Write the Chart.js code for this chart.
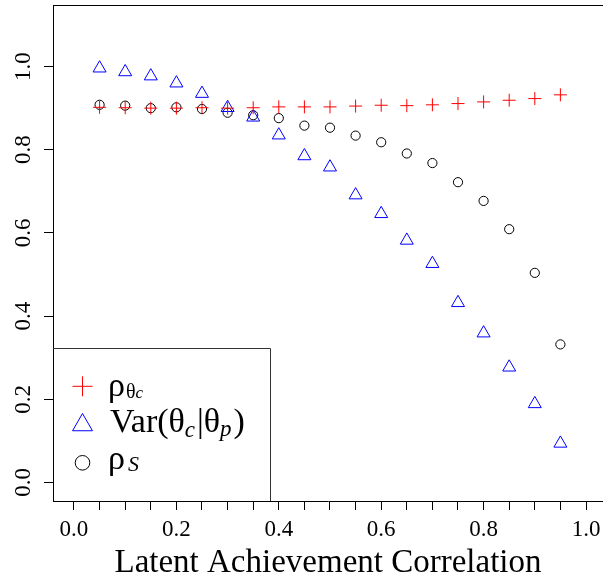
<!DOCTYPE html>
<html><head><meta charset="utf-8">
<script src="https://cdn.jsdelivr.net/npm/chart.js@4/dist/chart.umd.min.js"></script>
<style>html,body{margin:0;padding:0;background:#fff}canvas{display:block}</style>
</head><body>
<canvas id="c" width="603" height="583"></canvas>
<script>
// ---- data ----
const correlation = [0.05,0.10,0.15,0.20,0.25,0.30,0.35,0.40,0.45,0.50,0.55,0.60,0.65,0.70,0.75,0.80,0.85,0.90,0.95];
const rhoThetaC  = [0.902,0.901,0.900,0.900,0.901,0.900,0.901,0.903,0.903,0.903,0.905,0.907,0.906,0.908,0.911,0.915,0.919,0.923,0.932];
const varThetaC  = [0.996,0.987,0.977,0.960,0.935,0.901,0.878,0.835,0.785,0.758,0.691,0.646,0.582,0.526,0.432,0.359,0.277,0.189,0.094];
const rhoS       = [0.908,0.906,0.900,0.902,0.898,0.889,0.883,0.876,0.858,0.853,0.834,0.818,0.791,0.768,0.722,0.677,0.609,0.504,0.332];
const xTickLabels = ['0.0','0.2','0.4','0.6','0.8','1.0'];
const yTickLabels = ['0.0','0.2','0.4','0.6','0.8','1.0'];
const xTitle = 'Latent Achievement Correlation';

const FONT = "'Liberation Serif', 'DejaVu Serif', serif";
Chart.defaults.font.family = FONT;
Chart.defaults.color = '#000';

const pts = arr => correlation.map((x, i) => ({x, y: arr[i]}));

const frame = {
  id: 'frame',
  afterDraw(chart) {
    const ctx = chart.ctx, a = chart.chartArea;
    ctx.save();
    ctx.strokeStyle = '#000'; ctx.lineWidth = 1;
    ctx.beginPath(); ctx.moveTo(a.left, a.top + 0.5); ctx.lineTo(a.right, a.top + 0.5); ctx.stroke();
    ctx.restore();
  }
};

function richText(ctx, x, base, parts) {
  for (const p of parts) {
    ctx.font = (p.italic ? 'italic ' : '') + p.size + 'px ' + FONT;
    ctx.fillText(p.t, x, base + (p.dy || 0));
    x += ctx.measureText(p.t).width + (p.gap || 0);
  }
}

const rLegend = {
  id: 'rLegend',
  afterDatasetsDraw(chart) {
    const ctx = chart.ctx, a = chart.chartArea;
    const x0 = a.left, y0 = 348, x1 = 270, y1 = a.bottom;
    ctx.save();
    ctx.fillStyle = '#fff';
    ctx.fillRect(x0 + 1, y0, x1 - x0 - 1, y1 - y0 - 1);
    ctx.strokeStyle = '#333'; ctx.lineWidth = 1;
    ctx.beginPath();
    ctx.moveTo(x0, y0 + 0.5); ctx.lineTo(x1 + 0.5, y0 + 0.5); ctx.lineTo(x1 + 0.5, y1);
    ctx.stroke();
    const sx = 82.5, rows = [386.3, 425, 462.8];
    const sym = [
      {pointStyle: 'cross', radius: 10, color: '#ff0000'},
      {pointStyle: 'triangle', radius: 11.5, color: '#0000ff'},
      {pointStyle: 'circle', radius: 7.3, color: '#000'}
    ];
    sym.forEach((s, i) => {
      ctx.strokeStyle = s.color; ctx.fillStyle = 'rgba(0,0,0,0)'; ctx.lineWidth = 1;
      Chart.helpers.drawPoint(ctx, {pointStyle: s.pointStyle, radius: s.radius, rotation: 0, borderWidth: 1}, sx, rows[i]);
    });
    ctx.fillStyle = '#000'; ctx.textBaseline = 'alphabetic'; ctx.textAlign = 'left';
    richText(ctx, 108, 395.5, [
      {t: 'ρ', size: 34, gap: 1}, {t: 'θ', size: 20, dy: 2.5}, {t: 'c', size: 17, italic: true, dy: 2.5}
    ]);
    richText(ctx, 110, 431.7, [
      {t: 'Var(θ', size: 34}, {t: 'c', size: 23, italic: true, dy: 5.5, gap: 2},
      {t: '|θ', size: 34}, {t: 'p', size: 23, italic: true, dy: 4.5, gap: 2}, {t: ')', size: 34}
    ]);
    richText(ctx, 108, 468.8, [
      {t: 'ρ', size: 34, gap: 3}, {t: 'S', size: 22, italic: true, dy: 2.5}
    ]);
    ctx.restore();
  }
};

const noPad = s => { s.paddingLeft = 0; s.paddingRight = 0; s.paddingTop = 0; s.paddingBottom = 0; };

new Chart(document.getElementById('c'), {
  type: 'scatter',
  data: {
    datasets: [
      {label: 'rho_theta_c', data: pts(rhoThetaC), pointStyle: 'cross', pointRadius: 6.5, pointHoverRadius: 6.5,
       borderColor: '#ff0000', backgroundColor: 'rgba(0,0,0,0)', pointBorderWidth: 1},
      {label: 'Var', data: pts(varThetaC), pointStyle: 'triangle', pointRadius: 7.5, pointHoverRadius: 7.5,
       borderColor: '#0000ff', backgroundColor: 'rgba(0,0,0,0)', pointBorderWidth: 1},
      {label: 'rho_S', data: pts(rhoS), pointStyle: 'circle', pointRadius: 4.6, pointHoverRadius: 4.6,
       borderColor: '#000000', backgroundColor: 'rgba(0,0,0,0)', pointBorderWidth: 1}
    ]
  },
  options: {
    responsive: false, animation: false, devicePixelRatio: 1,
    layout: {autoPadding: false, padding: {left: 0, right: 0, top: 5, bottom: 0}},
    plugins: {legend: {display: false}, tooltip: {enabled: false}},
    scales: {
      x: {
        type: 'linear', min: -0.041, max: 1.0332,
        afterFit: s => { s.height = 82; noPad(s); },
        grid: {drawOnChartArea: false, drawTicks: true, tickLength: 9, color: '#000', tickWidth: 1},
        border: {display: true, color: '#000', width: 1},
        ticks: {
          stepSize: 0.05, includeBounds: false, autoSkip: false, maxRotation: 0, minRotation: 0,
          padding: 6, font: {size: 23}, color: '#000',
          callback: v => { const s = (Math.round(v * 100) / 100).toFixed(1); return (Math.abs(v * 5 - Math.round(v * 5)) < 1e-6 && xTickLabels.includes(s)) ? s : ''; }
        },
        title: {display: true, text: xTitle, font: {size: 33}, color: '#000', padding: {top: 0, bottom: 0}}
      },
      y: {
        type: 'linear', min: -0.0445, max: 1.148,
        afterFit: s => { s.width = 53; noPad(s); },
        grid: {drawOnChartArea: false, drawTicks: true, tickLength: 9, color: '#000', tickWidth: 1},
        border: {display: true, color: '#000', width: 1},
        ticks: {
          stepSize: 0.2, includeBounds: false, minRotation: 90, maxRotation: 90, crossAlign: 'center',
          padding: 6, font: {size: 23}, color: '#000',
          callback: v => { const s = (Math.round(v * 10) / 10).toFixed(1); return yTickLabels.includes(s) ? s : ''; }
        }
      }
    }
  },
  plugins: [frame, rLegend]
});
</script>
</body></html>
